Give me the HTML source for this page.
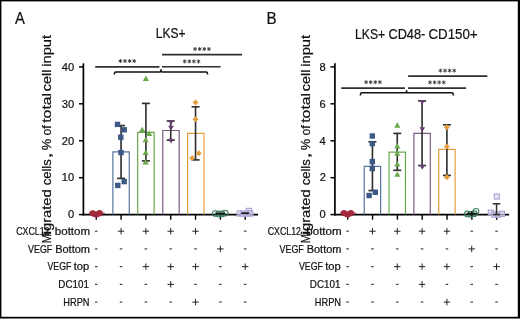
<!DOCTYPE html><html><head><meta charset="utf-8"><style>html,body{margin:0;padding:0;background:#fff;overflow:hidden}svg{display:block;will-change:transform}text{stroke:#111;stroke-width:0.22px}</style></head><body>
<svg width="520" height="319" viewBox="0 0 520 319" font-family='"Liberation Sans", sans-serif' fill="#111">
<rect x="0" y="0" width="520" height="319" fill="#000"/>
<rect x="1.4" y="1.4" width="516.4" height="315.4" fill="#fff"/>
<rect x="0" y="318" width="520" height="1" fill="#777"/>
<text x="15.07" y="24.00" font-size="17.2" textLength="9.87" lengthAdjust="spacingAndGlyphs" >A</text>
<text x="155.71" y="37.50" font-size="14.6" textLength="29.79" lengthAdjust="spacingAndGlyphs" >LKS+</text>
<text transform="translate(51.40,243.31) rotate(-90)" font-size="13.5" textLength="9.23" lengthAdjust="spacingAndGlyphs" >M</text>
<text transform="translate(51.40,235.33) rotate(-90)" font-size="13.5" textLength="4.80" lengthAdjust="spacingAndGlyphs" >i</text>
<text transform="translate(51.40,231.02) rotate(-90)" font-size="13.5" textLength="41.65" lengthAdjust="spacingAndGlyphs" >grated</text>
<text transform="translate(51.40,185.35) rotate(-90)" font-size="13.5" textLength="26.12" lengthAdjust="spacingAndGlyphs" >cells</text>
<text transform="translate(51.40,158.80) rotate(-90)" font-size="13.5" textLength="6.80" lengthAdjust="spacingAndGlyphs" >,</text>
<text transform="translate(51.40,150.27) rotate(-90)" font-size="13.5" textLength="11.52" lengthAdjust="spacingAndGlyphs" >%</text>
<text transform="translate(51.40,135.51) rotate(-90)" font-size="13.5" textLength="10.19" lengthAdjust="spacingAndGlyphs" >of</text>
<text transform="translate(51.40,122.85) rotate(-90)" font-size="13.5" textLength="30.00" lengthAdjust="spacingAndGlyphs" >total</text>
<text transform="translate(51.40,91.31) rotate(-90)" font-size="13.5" textLength="21.67" lengthAdjust="spacingAndGlyphs" >cell</text>
<text transform="translate(51.40,66.77) rotate(-90)" font-size="13.5" textLength="31.90" lengthAdjust="spacingAndGlyphs" >input</text>
<line x1="83.40" y1="63.30" x2="83.40" y2="215.40" stroke="#000" stroke-width="1.7"/>
<line x1="79.00" y1="66.90" x2="83.40" y2="66.90" stroke="#000" stroke-width="1.5"/>
<text x="61.80" y="70.65" font-size="11.7" textLength="12.43" lengthAdjust="spacingAndGlyphs" >40</text>
<line x1="79.00" y1="103.80" x2="83.40" y2="103.80" stroke="#000" stroke-width="1.5"/>
<text x="61.80" y="107.55" font-size="11.7" textLength="12.43" lengthAdjust="spacingAndGlyphs" >30</text>
<line x1="79.00" y1="140.80" x2="83.40" y2="140.80" stroke="#000" stroke-width="1.5"/>
<text x="61.80" y="144.55" font-size="11.7" textLength="12.43" lengthAdjust="spacingAndGlyphs" >20</text>
<line x1="79.00" y1="177.70" x2="83.40" y2="177.70" stroke="#000" stroke-width="1.5"/>
<text x="61.80" y="181.45" font-size="11.7" textLength="12.43" lengthAdjust="spacingAndGlyphs" >10</text>
<line x1="79.00" y1="214.60" x2="83.40" y2="214.60" stroke="#000" stroke-width="1.5"/>
<text x="68.01" y="218.35" font-size="11.7" textLength="6.21" lengthAdjust="spacingAndGlyphs" >0</text>
<line x1="82.60" y1="214.60" x2="258.00" y2="214.60" stroke="#000" stroke-width="1.7"/>
<line x1="96.25" y1="214.60" x2="96.25" y2="219.70" stroke="#000" stroke-width="1.4"/>
<line x1="121.08" y1="214.60" x2="121.08" y2="219.70" stroke="#000" stroke-width="1.4"/>
<line x1="145.90" y1="214.60" x2="145.90" y2="219.70" stroke="#000" stroke-width="1.4"/>
<line x1="170.72" y1="214.60" x2="170.72" y2="219.70" stroke="#000" stroke-width="1.4"/>
<line x1="195.55" y1="214.60" x2="195.55" y2="219.70" stroke="#000" stroke-width="1.4"/>
<line x1="220.38" y1="214.60" x2="220.38" y2="219.70" stroke="#000" stroke-width="1.4"/>
<line x1="245.20" y1="214.60" x2="245.20" y2="219.70" stroke="#000" stroke-width="1.4"/>
<line x1="88.75" y1="213.00" x2="104.75" y2="213.00" stroke="#a2293c" stroke-width="1.0"/>
<circle cx="92.7" cy="213.3" r="3.15" fill="#a2293c"/>
<circle cx="95.6" cy="214.4" r="2.9" fill="#a2293c"/>
<circle cx="97.0" cy="214.4" r="2.9" fill="#a2293c"/>
<circle cx="99.6" cy="213.2" r="3.15" fill="#a2293c"/>
<path d="M112.88,214.60V151.80H129.28V214.60" fill="none" stroke="#56739f" stroke-width="1.2"/>
<line x1="121.08" y1="125.60" x2="121.08" y2="178.40" stroke="#303030" stroke-width="1.65"/>
<line x1="117.08" y1="125.60" x2="125.08" y2="125.60" stroke="#303030" stroke-width="1.65"/>
<line x1="117.08" y1="178.40" x2="125.08" y2="178.40" stroke="#303030" stroke-width="1.65"/>
<rect x="114.80" y="121.70" width="5.4" height="5.4" fill="#3c5887"/>
<rect x="121.50" y="127.10" width="5.4" height="5.4" fill="#3c5887"/>
<rect x="118.10" y="134.50" width="5.4" height="5.4" fill="#3c5887"/>
<rect x="118.30" y="149.90" width="5.4" height="5.4" fill="#3c5887"/>
<rect x="121.50" y="178.90" width="5.4" height="5.4" fill="#3c5887"/>
<rect x="115.10" y="182.70" width="5.4" height="5.4" fill="#3c5887"/>
<path d="M137.70,214.60V132.30H154.10V214.60" fill="none" stroke="#6aa94a" stroke-width="1.2"/>
<line x1="145.90" y1="103.40" x2="145.90" y2="160.90" stroke="#303030" stroke-width="1.65"/>
<line x1="141.90" y1="103.40" x2="149.90" y2="103.40" stroke="#303030" stroke-width="1.65"/>
<line x1="141.90" y1="160.90" x2="149.90" y2="160.90" stroke="#303030" stroke-width="1.65"/>
<path d="M139.10,132.10L142.20,126.70L145.30,132.10Z" fill="#6aa94a"/>
<path d="M146.10,135.90L149.20,130.50L152.30,135.90Z" fill="#6aa94a"/>
<path d="M142.80,81.00L145.90,75.60L149.00,81.00Z" fill="#6aa94a"/>
<path d="M142.50,142.30L145.60,136.90L148.70,142.30Z" fill="#6aa94a"/>
<path d="M142.50,155.10L145.60,149.70L148.70,155.10Z" fill="#6aa94a"/>
<path d="M142.50,164.50L145.60,159.10L148.70,164.50Z" fill="#6aa94a"/>
<path d="M162.78,214.60V130.50H179.17V214.60" fill="none" stroke="#7d5c8a" stroke-width="1.2"/>
<line x1="170.72" y1="121.00" x2="170.72" y2="140.20" stroke="#303030" stroke-width="1.65"/>
<line x1="166.72" y1="121.00" x2="174.72" y2="121.00" stroke="#303030" stroke-width="1.65"/>
<line x1="166.72" y1="140.20" x2="174.72" y2="140.20" stroke="#303030" stroke-width="1.65"/>
<path d="M168.20,120.15L171.00,124.85L173.80,120.15Z" fill="#6a3c77"/>
<path d="M168.20,125.85L171.00,130.55L173.80,125.85Z" fill="#6a3c77"/>
<path d="M168.20,138.85L171.00,143.55L173.80,138.85Z" fill="#6a3c77"/>
<path d="M187.60,214.60V133.40H204.00V214.60" fill="none" stroke="#e49e3e" stroke-width="1.2"/>
<line x1="195.55" y1="106.80" x2="195.55" y2="159.90" stroke="#303030" stroke-width="1.65"/>
<line x1="191.55" y1="106.80" x2="199.55" y2="106.80" stroke="#303030" stroke-width="1.65"/>
<line x1="191.55" y1="159.90" x2="199.55" y2="159.90" stroke="#303030" stroke-width="1.65"/>
<path d="M195.50,99.40L198.50,102.40L195.50,105.40L192.50,102.40Z" fill="#e49e3e"/>
<path d="M195.50,116.30L198.50,119.30L195.50,122.30L192.50,119.30Z" fill="#e49e3e"/>
<path d="M198.80,150.20L201.80,153.20L198.80,156.20L195.80,153.20Z" fill="#e49e3e"/>
<path d="M192.20,154.90L195.20,157.90L192.20,160.90L189.20,157.90Z" fill="#e49e3e"/>
<circle cx="215.2" cy="213.5" r="2.8" fill="none" stroke="#3a7d5c" stroke-width="1.1"/>
<circle cx="218.5" cy="213.9" r="2.8" fill="none" stroke="#3a7d5c" stroke-width="1.1"/>
<circle cx="222" cy="213.9" r="2.8" fill="none" stroke="#3a7d5c" stroke-width="1.1"/>
<circle cx="225.3" cy="213.1" r="2.8" fill="none" stroke="#3a7d5c" stroke-width="1.1"/>
<line x1="215.78" y1="213.60" x2="224.78" y2="213.60" stroke="#111" stroke-width="1.6"/>
<rect x="246.30" y="208.30" width="5.2" height="5.2" fill="#d6d0ee" fill-opacity="0.7" stroke="#a99dd3" stroke-width="1.0"/>
<rect x="237.00" y="210.90" width="5.2" height="5.2" fill="#d6d0ee" fill-opacity="0.7" stroke="#a99dd3" stroke-width="1.0"/>
<rect x="240.40" y="211.00" width="5.2" height="5.2" fill="#d6d0ee" fill-opacity="0.7" stroke="#a99dd3" stroke-width="1.0"/>
<rect x="243.90" y="211.00" width="5.2" height="5.2" fill="#d6d0ee" fill-opacity="0.7" stroke="#a99dd3" stroke-width="1.0"/>
<rect x="247.80" y="210.90" width="5.2" height="5.2" fill="#d6d0ee" fill-opacity="0.7" stroke="#a99dd3" stroke-width="1.0"/>
<line x1="241.20" y1="213.20" x2="249.20" y2="213.20" stroke="#111" stroke-width="1.6"/>
<line x1="162.00" y1="54.60" x2="242.00" y2="54.60" stroke="#303030" stroke-width="1.6"/>
<line x1="195.10" y1="47.00" x2="195.10" y2="51.00" stroke="#333" stroke-width="0.9"/>
<line x1="193.37" y1="48.00" x2="196.83" y2="50.00" stroke="#333" stroke-width="0.9"/>
<line x1="196.83" y1="48.00" x2="193.37" y2="50.00" stroke="#333" stroke-width="0.9"/>
<line x1="199.70" y1="47.00" x2="199.70" y2="51.00" stroke="#333" stroke-width="0.9"/>
<line x1="197.97" y1="48.00" x2="201.43" y2="50.00" stroke="#333" stroke-width="0.9"/>
<line x1="201.43" y1="48.00" x2="197.97" y2="50.00" stroke="#333" stroke-width="0.9"/>
<line x1="204.30" y1="47.00" x2="204.30" y2="51.00" stroke="#333" stroke-width="0.9"/>
<line x1="202.57" y1="48.00" x2="206.03" y2="50.00" stroke="#333" stroke-width="0.9"/>
<line x1="206.03" y1="48.00" x2="202.57" y2="50.00" stroke="#333" stroke-width="0.9"/>
<line x1="208.90" y1="47.00" x2="208.90" y2="51.00" stroke="#333" stroke-width="0.9"/>
<line x1="207.17" y1="48.00" x2="210.63" y2="50.00" stroke="#333" stroke-width="0.9"/>
<line x1="210.63" y1="48.00" x2="207.17" y2="50.00" stroke="#333" stroke-width="0.9"/>
<line x1="95.20" y1="66.90" x2="159.40" y2="66.90" stroke="#303030" stroke-width="1.6"/>
<line x1="120.40" y1="59.00" x2="120.40" y2="63.00" stroke="#333" stroke-width="0.9"/>
<line x1="118.67" y1="60.00" x2="122.13" y2="62.00" stroke="#333" stroke-width="0.9"/>
<line x1="122.13" y1="60.00" x2="118.67" y2="62.00" stroke="#333" stroke-width="0.9"/>
<line x1="125.00" y1="59.00" x2="125.00" y2="63.00" stroke="#333" stroke-width="0.9"/>
<line x1="123.27" y1="60.00" x2="126.73" y2="62.00" stroke="#333" stroke-width="0.9"/>
<line x1="126.73" y1="60.00" x2="123.27" y2="62.00" stroke="#333" stroke-width="0.9"/>
<line x1="129.60" y1="59.00" x2="129.60" y2="63.00" stroke="#333" stroke-width="0.9"/>
<line x1="127.87" y1="60.00" x2="131.33" y2="62.00" stroke="#333" stroke-width="0.9"/>
<line x1="131.33" y1="60.00" x2="127.87" y2="62.00" stroke="#333" stroke-width="0.9"/>
<line x1="134.20" y1="59.00" x2="134.20" y2="63.00" stroke="#333" stroke-width="0.9"/>
<line x1="132.47" y1="60.00" x2="135.93" y2="62.00" stroke="#333" stroke-width="0.9"/>
<line x1="135.93" y1="60.00" x2="132.47" y2="62.00" stroke="#333" stroke-width="0.9"/>
<line x1="162.00" y1="66.80" x2="220.60" y2="66.80" stroke="#303030" stroke-width="1.6"/>
<line x1="184.70" y1="59.40" x2="184.70" y2="63.40" stroke="#333" stroke-width="0.9"/>
<line x1="182.97" y1="60.40" x2="186.43" y2="62.40" stroke="#333" stroke-width="0.9"/>
<line x1="186.43" y1="60.40" x2="182.97" y2="62.40" stroke="#333" stroke-width="0.9"/>
<line x1="189.30" y1="59.40" x2="189.30" y2="63.40" stroke="#333" stroke-width="0.9"/>
<line x1="187.57" y1="60.40" x2="191.03" y2="62.40" stroke="#333" stroke-width="0.9"/>
<line x1="191.03" y1="60.40" x2="187.57" y2="62.40" stroke="#333" stroke-width="0.9"/>
<line x1="193.90" y1="59.40" x2="193.90" y2="63.40" stroke="#333" stroke-width="0.9"/>
<line x1="192.17" y1="60.40" x2="195.63" y2="62.40" stroke="#333" stroke-width="0.9"/>
<line x1="195.63" y1="60.40" x2="192.17" y2="62.40" stroke="#333" stroke-width="0.9"/>
<line x1="198.50" y1="59.40" x2="198.50" y2="63.40" stroke="#333" stroke-width="0.9"/>
<line x1="196.77" y1="60.40" x2="200.23" y2="62.40" stroke="#333" stroke-width="0.9"/>
<line x1="200.23" y1="60.40" x2="196.77" y2="62.40" stroke="#333" stroke-width="0.9"/>
<path d="M114.30,74.60Q114.30,71.90 115.80,71.90H159.80Q161.00,71.90 161.00,69.20Q161.00,71.90 162.20,71.90H206.10Q207.60,71.90 207.60,74.60" fill="none" stroke="#111" stroke-width="1.5"/>
<text x="266.55" y="23.80" font-size="16.8" textLength="10.16" lengthAdjust="spacingAndGlyphs" >B</text>
<text x="355.11" y="38.50" font-size="14.6" textLength="30.00" lengthAdjust="spacingAndGlyphs" >LKS+</text>
<text x="388.46" y="38.50" font-size="14.6" textLength="36.82" lengthAdjust="spacingAndGlyphs" >CD48-</text>
<text x="428.44" y="38.50" font-size="14.6" textLength="49.14" lengthAdjust="spacingAndGlyphs" >CD150+</text>
<text transform="translate(309.90,243.31) rotate(-90)" font-size="13.5" textLength="9.23" lengthAdjust="spacingAndGlyphs" >M</text>
<text transform="translate(309.90,235.33) rotate(-90)" font-size="13.5" textLength="4.80" lengthAdjust="spacingAndGlyphs" >i</text>
<text transform="translate(309.90,231.02) rotate(-90)" font-size="13.5" textLength="41.65" lengthAdjust="spacingAndGlyphs" >grated</text>
<text transform="translate(309.90,185.35) rotate(-90)" font-size="13.5" textLength="26.12" lengthAdjust="spacingAndGlyphs" >cells</text>
<text transform="translate(309.90,158.80) rotate(-90)" font-size="13.5" textLength="6.80" lengthAdjust="spacingAndGlyphs" >,</text>
<text transform="translate(309.90,150.27) rotate(-90)" font-size="13.5" textLength="11.52" lengthAdjust="spacingAndGlyphs" >%</text>
<text transform="translate(309.90,135.51) rotate(-90)" font-size="13.5" textLength="10.19" lengthAdjust="spacingAndGlyphs" >of</text>
<text transform="translate(309.90,122.85) rotate(-90)" font-size="13.5" textLength="30.00" lengthAdjust="spacingAndGlyphs" >total</text>
<text transform="translate(309.90,91.31) rotate(-90)" font-size="13.5" textLength="21.67" lengthAdjust="spacingAndGlyphs" >cell</text>
<text transform="translate(309.90,66.77) rotate(-90)" font-size="13.5" textLength="31.90" lengthAdjust="spacingAndGlyphs" >input</text>
<line x1="334.90" y1="63.30" x2="334.90" y2="215.40" stroke="#000" stroke-width="1.7"/>
<line x1="330.50" y1="66.90" x2="334.90" y2="66.90" stroke="#000" stroke-width="1.5"/>
<text x="319.58" y="70.65" font-size="11.7" textLength="6.21" lengthAdjust="spacingAndGlyphs" >8</text>
<line x1="330.50" y1="103.80" x2="334.90" y2="103.80" stroke="#000" stroke-width="1.5"/>
<text x="319.58" y="107.55" font-size="11.7" textLength="6.21" lengthAdjust="spacingAndGlyphs" >6</text>
<line x1="330.50" y1="140.80" x2="334.90" y2="140.80" stroke="#000" stroke-width="1.5"/>
<text x="319.42" y="144.55" font-size="11.7" textLength="6.21" lengthAdjust="spacingAndGlyphs" >4</text>
<line x1="330.50" y1="177.70" x2="334.90" y2="177.70" stroke="#000" stroke-width="1.5"/>
<text x="319.65" y="181.45" font-size="11.7" textLength="6.21" lengthAdjust="spacingAndGlyphs" >2</text>
<line x1="330.50" y1="214.60" x2="334.90" y2="214.60" stroke="#000" stroke-width="1.5"/>
<text x="319.51" y="218.35" font-size="11.7" textLength="6.21" lengthAdjust="spacingAndGlyphs" >0</text>
<line x1="334.10" y1="214.60" x2="509.20" y2="214.60" stroke="#000" stroke-width="1.7"/>
<line x1="347.75" y1="214.60" x2="347.75" y2="219.70" stroke="#000" stroke-width="1.4"/>
<line x1="372.57" y1="214.60" x2="372.57" y2="219.70" stroke="#000" stroke-width="1.4"/>
<line x1="397.40" y1="214.60" x2="397.40" y2="219.70" stroke="#000" stroke-width="1.4"/>
<line x1="422.23" y1="214.60" x2="422.23" y2="219.70" stroke="#000" stroke-width="1.4"/>
<line x1="447.05" y1="214.60" x2="447.05" y2="219.70" stroke="#000" stroke-width="1.4"/>
<line x1="471.88" y1="214.60" x2="471.88" y2="219.70" stroke="#000" stroke-width="1.4"/>
<line x1="496.70" y1="214.60" x2="496.70" y2="219.70" stroke="#000" stroke-width="1.4"/>
<line x1="340.10" y1="213.00" x2="356.10" y2="213.00" stroke="#a2293c" stroke-width="1.0"/>
<circle cx="344.0" cy="213.1" r="3.2" fill="#a2293c"/>
<circle cx="347.0" cy="214.4" r="2.9" fill="#a2293c"/>
<circle cx="348.2" cy="214.4" r="2.9" fill="#a2293c"/>
<circle cx="350.8" cy="213.1" r="3.2" fill="#a2293c"/>
<path d="M364.23,214.60V166.30H380.62V214.60" fill="none" stroke="#56739f" stroke-width="1.2"/>
<line x1="372.43" y1="141.80" x2="372.43" y2="190.60" stroke="#303030" stroke-width="1.65"/>
<line x1="368.43" y1="141.80" x2="376.43" y2="141.80" stroke="#303030" stroke-width="1.65"/>
<line x1="368.43" y1="190.60" x2="376.43" y2="190.60" stroke="#303030" stroke-width="1.65"/>
<rect x="369.60" y="133.30" width="5.4" height="5.4" fill="#3c5887"/>
<rect x="369.60" y="140.90" width="5.4" height="5.4" fill="#3c5887"/>
<rect x="369.60" y="158.90" width="5.4" height="5.4" fill="#3c5887"/>
<rect x="369.60" y="165.90" width="5.4" height="5.4" fill="#3c5887"/>
<rect x="372.60" y="189.60" width="5.4" height="5.4" fill="#3c5887"/>
<rect x="366.40" y="192.80" width="5.4" height="5.4" fill="#3c5887"/>
<path d="M389.05,214.60V152.20H405.45V214.60" fill="none" stroke="#6aa94a" stroke-width="1.2"/>
<line x1="397.25" y1="133.40" x2="397.25" y2="170.30" stroke="#303030" stroke-width="1.65"/>
<line x1="393.25" y1="133.40" x2="401.25" y2="133.40" stroke="#303030" stroke-width="1.65"/>
<line x1="393.25" y1="170.30" x2="401.25" y2="170.30" stroke="#303030" stroke-width="1.65"/>
<path d="M394.20,127.70L397.30,122.30L400.40,127.70Z" fill="#6aa94a"/>
<path d="M394.20,148.50L397.30,143.10L400.40,148.50Z" fill="#6aa94a"/>
<path d="M394.20,155.70L397.30,150.30L400.40,155.70Z" fill="#6aa94a"/>
<path d="M394.20,166.40L397.30,161.00L400.40,166.40Z" fill="#6aa94a"/>
<path d="M394.20,176.80L397.30,171.40L400.40,176.80Z" fill="#6aa94a"/>
<path d="M413.88,214.60V133.30H430.28V214.60" fill="none" stroke="#7d5c8a" stroke-width="1.2"/>
<line x1="422.08" y1="100.90" x2="422.08" y2="165.50" stroke="#303030" stroke-width="1.65"/>
<line x1="418.08" y1="100.90" x2="426.08" y2="100.90" stroke="#303030" stroke-width="1.65"/>
<line x1="418.08" y1="165.50" x2="426.08" y2="165.50" stroke="#303030" stroke-width="1.65"/>
<path d="M419.50,100.05L422.30,104.75L425.10,100.05Z" fill="#6a3c77"/>
<path d="M419.50,127.35L422.30,132.05L425.10,127.35Z" fill="#6a3c77"/>
<path d="M419.50,165.05L422.30,169.75L425.10,165.05Z" fill="#6a3c77"/>
<path d="M438.70,214.60V149.40H455.10V214.60" fill="none" stroke="#e49e3e" stroke-width="1.2"/>
<line x1="446.90" y1="124.80" x2="446.90" y2="175.40" stroke="#303030" stroke-width="1.65"/>
<line x1="442.90" y1="124.80" x2="450.90" y2="124.80" stroke="#303030" stroke-width="1.65"/>
<line x1="442.90" y1="175.40" x2="450.90" y2="175.40" stroke="#303030" stroke-width="1.65"/>
<path d="M446.80,124.20L449.80,127.20L446.80,130.20L443.80,127.20Z" fill="#e49e3e"/>
<path d="M446.80,143.50L449.80,146.50L446.80,149.50L443.80,146.50Z" fill="#e49e3e"/>
<path d="M446.80,174.20L449.80,177.20L446.80,180.20L443.80,177.20Z" fill="#e49e3e"/>
<circle cx="467.3" cy="213.9" r="2.8" fill="none" stroke="#3a7d5c" stroke-width="1.1"/>
<circle cx="470.8" cy="214.3" r="2.8" fill="none" stroke="#3a7d5c" stroke-width="1.1"/>
<circle cx="474.3" cy="213.7" r="2.8" fill="none" stroke="#3a7d5c" stroke-width="1.1"/>
<circle cx="476.0" cy="211.3" r="2.8" fill="none" stroke="#3a7d5c" stroke-width="1.1"/>
<line x1="466.73" y1="213.60" x2="476.73" y2="213.60" stroke="#111" stroke-width="1.6"/>
<line x1="471.73" y1="211.30" x2="471.73" y2="216.00" stroke="#111" stroke-width="1.2"/>
<rect x="494.20" y="193.90" width="5.2" height="5.2" fill="#d6d0ee" fill-opacity="0.7" stroke="#a99dd3" stroke-width="1.0"/>
<rect x="488.20" y="210.00" width="5.2" height="5.2" fill="#d6d0ee" fill-opacity="0.7" stroke="#a99dd3" stroke-width="1.0"/>
<rect x="491.70" y="212.00" width="5.2" height="5.2" fill="#d6d0ee" fill-opacity="0.7" stroke="#a99dd3" stroke-width="1.0"/>
<rect x="495.70" y="212.00" width="5.2" height="5.2" fill="#d6d0ee" fill-opacity="0.7" stroke="#a99dd3" stroke-width="1.0"/>
<rect x="499.30" y="211.20" width="5.2" height="5.2" fill="#d6d0ee" fill-opacity="0.7" stroke="#a99dd3" stroke-width="1.0"/>
<line x1="496.55" y1="203.80" x2="496.55" y2="214.60" stroke="#303030" stroke-width="1.5"/>
<line x1="492.75" y1="203.80" x2="500.35" y2="203.80" stroke="#303030" stroke-width="1.5"/>
<line x1="492.75" y1="214.60" x2="500.35" y2="214.60" stroke="#303030" stroke-width="1.5"/>
<line x1="408.10" y1="76.10" x2="487.40" y2="76.10" stroke="#303030" stroke-width="1.6"/>
<line x1="440.40" y1="68.60" x2="440.40" y2="72.60" stroke="#333" stroke-width="0.9"/>
<line x1="438.67" y1="69.60" x2="442.13" y2="71.60" stroke="#333" stroke-width="0.9"/>
<line x1="442.13" y1="69.60" x2="438.67" y2="71.60" stroke="#333" stroke-width="0.9"/>
<line x1="445.00" y1="68.60" x2="445.00" y2="72.60" stroke="#333" stroke-width="0.9"/>
<line x1="443.27" y1="69.60" x2="446.73" y2="71.60" stroke="#333" stroke-width="0.9"/>
<line x1="446.73" y1="69.60" x2="443.27" y2="71.60" stroke="#333" stroke-width="0.9"/>
<line x1="449.60" y1="68.60" x2="449.60" y2="72.60" stroke="#333" stroke-width="0.9"/>
<line x1="447.87" y1="69.60" x2="451.33" y2="71.60" stroke="#333" stroke-width="0.9"/>
<line x1="451.33" y1="69.60" x2="447.87" y2="71.60" stroke="#333" stroke-width="0.9"/>
<line x1="454.20" y1="68.60" x2="454.20" y2="72.60" stroke="#333" stroke-width="0.9"/>
<line x1="452.47" y1="69.60" x2="455.93" y2="71.60" stroke="#333" stroke-width="0.9"/>
<line x1="455.93" y1="69.60" x2="452.47" y2="71.60" stroke="#333" stroke-width="0.9"/>
<line x1="341.20" y1="88.10" x2="404.90" y2="88.10" stroke="#303030" stroke-width="1.6"/>
<line x1="366.10" y1="80.20" x2="366.10" y2="84.20" stroke="#333" stroke-width="0.9"/>
<line x1="364.37" y1="81.20" x2="367.83" y2="83.20" stroke="#333" stroke-width="0.9"/>
<line x1="367.83" y1="81.20" x2="364.37" y2="83.20" stroke="#333" stroke-width="0.9"/>
<line x1="370.70" y1="80.20" x2="370.70" y2="84.20" stroke="#333" stroke-width="0.9"/>
<line x1="368.97" y1="81.20" x2="372.43" y2="83.20" stroke="#333" stroke-width="0.9"/>
<line x1="372.43" y1="81.20" x2="368.97" y2="83.20" stroke="#333" stroke-width="0.9"/>
<line x1="375.30" y1="80.20" x2="375.30" y2="84.20" stroke="#333" stroke-width="0.9"/>
<line x1="373.57" y1="81.20" x2="377.03" y2="83.20" stroke="#333" stroke-width="0.9"/>
<line x1="377.03" y1="81.20" x2="373.57" y2="83.20" stroke="#333" stroke-width="0.9"/>
<line x1="379.90" y1="80.20" x2="379.90" y2="84.20" stroke="#333" stroke-width="0.9"/>
<line x1="378.17" y1="81.20" x2="381.63" y2="83.20" stroke="#333" stroke-width="0.9"/>
<line x1="381.63" y1="81.20" x2="378.17" y2="83.20" stroke="#333" stroke-width="0.9"/>
<line x1="408.10" y1="88.10" x2="466.10" y2="88.10" stroke="#303030" stroke-width="1.6"/>
<line x1="430.00" y1="80.40" x2="430.00" y2="84.40" stroke="#333" stroke-width="0.9"/>
<line x1="428.27" y1="81.40" x2="431.73" y2="83.40" stroke="#333" stroke-width="0.9"/>
<line x1="431.73" y1="81.40" x2="428.27" y2="83.40" stroke="#333" stroke-width="0.9"/>
<line x1="434.60" y1="80.40" x2="434.60" y2="84.40" stroke="#333" stroke-width="0.9"/>
<line x1="432.87" y1="81.40" x2="436.33" y2="83.40" stroke="#333" stroke-width="0.9"/>
<line x1="436.33" y1="81.40" x2="432.87" y2="83.40" stroke="#333" stroke-width="0.9"/>
<line x1="439.20" y1="80.40" x2="439.20" y2="84.40" stroke="#333" stroke-width="0.9"/>
<line x1="437.47" y1="81.40" x2="440.93" y2="83.40" stroke="#333" stroke-width="0.9"/>
<line x1="440.93" y1="81.40" x2="437.47" y2="83.40" stroke="#333" stroke-width="0.9"/>
<line x1="443.80" y1="80.40" x2="443.80" y2="84.40" stroke="#333" stroke-width="0.9"/>
<line x1="442.07" y1="81.40" x2="445.53" y2="83.40" stroke="#333" stroke-width="0.9"/>
<line x1="445.53" y1="81.40" x2="442.07" y2="83.40" stroke="#333" stroke-width="0.9"/>
<path d="M360.40,95.60Q360.40,92.80 361.90,92.80H405.40Q406.60,92.80 406.60,90.20Q406.60,92.80 407.80,92.80H451.90Q453.40,92.80 453.40,95.60" fill="none" stroke="#111" stroke-width="1.5"/>
<text x="16.16" y="235.00" font-size="10.4" textLength="33.38" lengthAdjust="spacingAndGlyphs" fill="#111">CXCL12</text>
<text x="54.76" y="235.00" font-size="10.4" textLength="35.40" lengthAdjust="spacingAndGlyphs" fill="#111">bottom</text>
<line x1="94.95" y1="231.20" x2="97.55" y2="231.20" stroke="#333" stroke-width="1.1"/>
<line x1="117.88" y1="231.20" x2="124.28" y2="231.20" stroke="#222" stroke-width="1.0"/>
<line x1="121.08" y1="228.00" x2="121.08" y2="234.40" stroke="#222" stroke-width="1.0"/>
<line x1="142.70" y1="231.20" x2="149.10" y2="231.20" stroke="#222" stroke-width="1.0"/>
<line x1="145.90" y1="228.00" x2="145.90" y2="234.40" stroke="#222" stroke-width="1.0"/>
<line x1="167.53" y1="231.20" x2="173.92" y2="231.20" stroke="#222" stroke-width="1.0"/>
<line x1="170.72" y1="228.00" x2="170.72" y2="234.40" stroke="#222" stroke-width="1.0"/>
<line x1="192.35" y1="231.20" x2="198.75" y2="231.20" stroke="#222" stroke-width="1.0"/>
<line x1="195.55" y1="228.00" x2="195.55" y2="234.40" stroke="#222" stroke-width="1.0"/>
<line x1="219.07" y1="231.20" x2="221.68" y2="231.20" stroke="#333" stroke-width="1.1"/>
<line x1="243.90" y1="231.20" x2="246.50" y2="231.20" stroke="#333" stroke-width="1.1"/>
<text x="28.06" y="252.72" font-size="10.4" textLength="24.20" lengthAdjust="spacingAndGlyphs" fill="#111">VEGF</text>
<text x="55.20" y="252.72" font-size="10.4" textLength="34.70" lengthAdjust="spacingAndGlyphs" fill="#111">Bottom</text>
<line x1="94.95" y1="248.92" x2="97.55" y2="248.92" stroke="#333" stroke-width="1.1"/>
<line x1="119.78" y1="248.92" x2="122.38" y2="248.92" stroke="#333" stroke-width="1.1"/>
<line x1="144.60" y1="248.92" x2="147.20" y2="248.92" stroke="#333" stroke-width="1.1"/>
<line x1="169.42" y1="248.92" x2="172.03" y2="248.92" stroke="#333" stroke-width="1.1"/>
<line x1="194.25" y1="248.92" x2="196.85" y2="248.92" stroke="#333" stroke-width="1.1"/>
<line x1="217.18" y1="248.92" x2="223.57" y2="248.92" stroke="#222" stroke-width="1.0"/>
<line x1="220.38" y1="245.72" x2="220.38" y2="252.12" stroke="#222" stroke-width="1.0"/>
<line x1="243.90" y1="248.92" x2="246.50" y2="248.92" stroke="#333" stroke-width="1.1"/>
<text x="47.46" y="270.44" font-size="10.4" textLength="23.99" lengthAdjust="spacingAndGlyphs" fill="#111">VEGF</text>
<text x="73.72" y="270.44" font-size="10.4" textLength="15.55" lengthAdjust="spacingAndGlyphs" fill="#111">top</text>
<line x1="94.95" y1="266.64" x2="97.55" y2="266.64" stroke="#333" stroke-width="1.1"/>
<line x1="119.78" y1="266.64" x2="122.38" y2="266.64" stroke="#333" stroke-width="1.1"/>
<line x1="142.70" y1="266.64" x2="149.10" y2="266.64" stroke="#222" stroke-width="1.0"/>
<line x1="145.90" y1="263.44" x2="145.90" y2="269.84" stroke="#222" stroke-width="1.0"/>
<line x1="167.53" y1="266.64" x2="173.92" y2="266.64" stroke="#222" stroke-width="1.0"/>
<line x1="170.72" y1="263.44" x2="170.72" y2="269.84" stroke="#222" stroke-width="1.0"/>
<line x1="192.35" y1="266.64" x2="198.75" y2="266.64" stroke="#222" stroke-width="1.0"/>
<line x1="195.55" y1="263.44" x2="195.55" y2="269.84" stroke="#222" stroke-width="1.0"/>
<line x1="219.07" y1="266.64" x2="221.68" y2="266.64" stroke="#333" stroke-width="1.1"/>
<line x1="242.00" y1="266.64" x2="248.40" y2="266.64" stroke="#222" stroke-width="1.0"/>
<line x1="245.20" y1="263.44" x2="245.20" y2="269.84" stroke="#222" stroke-width="1.0"/>
<text x="58.29" y="288.16" font-size="10.4" textLength="30.59" lengthAdjust="spacingAndGlyphs" fill="#111">DC101</text>
<line x1="94.95" y1="284.36" x2="97.55" y2="284.36" stroke="#333" stroke-width="1.1"/>
<line x1="119.78" y1="284.36" x2="122.38" y2="284.36" stroke="#333" stroke-width="1.1"/>
<line x1="144.60" y1="284.36" x2="147.20" y2="284.36" stroke="#333" stroke-width="1.1"/>
<line x1="167.53" y1="284.36" x2="173.92" y2="284.36" stroke="#222" stroke-width="1.0"/>
<line x1="170.72" y1="281.16" x2="170.72" y2="287.56" stroke="#222" stroke-width="1.0"/>
<line x1="194.25" y1="284.36" x2="196.85" y2="284.36" stroke="#333" stroke-width="1.1"/>
<line x1="219.07" y1="284.36" x2="221.68" y2="284.36" stroke="#333" stroke-width="1.1"/>
<line x1="243.90" y1="284.36" x2="246.50" y2="284.36" stroke="#333" stroke-width="1.1"/>
<text x="63.34" y="305.88" font-size="10.4" textLength="26.21" lengthAdjust="spacingAndGlyphs" fill="#111">HRPN</text>
<line x1="94.95" y1="302.08" x2="97.55" y2="302.08" stroke="#333" stroke-width="1.1"/>
<line x1="119.78" y1="302.08" x2="122.38" y2="302.08" stroke="#333" stroke-width="1.1"/>
<line x1="144.60" y1="302.08" x2="147.20" y2="302.08" stroke="#333" stroke-width="1.1"/>
<line x1="169.42" y1="302.08" x2="172.03" y2="302.08" stroke="#333" stroke-width="1.1"/>
<line x1="192.35" y1="302.08" x2="198.75" y2="302.08" stroke="#222" stroke-width="1.0"/>
<line x1="195.55" y1="298.88" x2="195.55" y2="305.28" stroke="#222" stroke-width="1.0"/>
<line x1="219.07" y1="302.08" x2="221.68" y2="302.08" stroke="#333" stroke-width="1.1"/>
<line x1="243.90" y1="302.08" x2="246.50" y2="302.08" stroke="#333" stroke-width="1.1"/>
<text x="267.66" y="235.00" font-size="10.4" textLength="33.38" lengthAdjust="spacingAndGlyphs" fill="#111">CXCL12</text>
<text x="306.26" y="235.00" font-size="10.4" textLength="35.40" lengthAdjust="spacingAndGlyphs" fill="#111">bottom</text>
<line x1="346.30" y1="231.20" x2="348.90" y2="231.20" stroke="#333" stroke-width="1.1"/>
<line x1="369.23" y1="231.20" x2="375.62" y2="231.20" stroke="#222" stroke-width="1.0"/>
<line x1="372.43" y1="228.00" x2="372.43" y2="234.40" stroke="#222" stroke-width="1.0"/>
<line x1="394.05" y1="231.20" x2="400.45" y2="231.20" stroke="#222" stroke-width="1.0"/>
<line x1="397.25" y1="228.00" x2="397.25" y2="234.40" stroke="#222" stroke-width="1.0"/>
<line x1="418.88" y1="231.20" x2="425.28" y2="231.20" stroke="#222" stroke-width="1.0"/>
<line x1="422.08" y1="228.00" x2="422.08" y2="234.40" stroke="#222" stroke-width="1.0"/>
<line x1="443.70" y1="231.20" x2="450.10" y2="231.20" stroke="#222" stroke-width="1.0"/>
<line x1="446.90" y1="228.00" x2="446.90" y2="234.40" stroke="#222" stroke-width="1.0"/>
<line x1="470.43" y1="231.20" x2="473.03" y2="231.20" stroke="#333" stroke-width="1.1"/>
<line x1="495.25" y1="231.20" x2="497.85" y2="231.20" stroke="#333" stroke-width="1.1"/>
<text x="279.56" y="252.72" font-size="10.4" textLength="24.20" lengthAdjust="spacingAndGlyphs" fill="#111">VEGF</text>
<text x="306.70" y="252.72" font-size="10.4" textLength="34.70" lengthAdjust="spacingAndGlyphs" fill="#111">Bottom</text>
<line x1="346.30" y1="248.92" x2="348.90" y2="248.92" stroke="#333" stroke-width="1.1"/>
<line x1="371.12" y1="248.92" x2="373.73" y2="248.92" stroke="#333" stroke-width="1.1"/>
<line x1="395.95" y1="248.92" x2="398.55" y2="248.92" stroke="#333" stroke-width="1.1"/>
<line x1="420.78" y1="248.92" x2="423.38" y2="248.92" stroke="#333" stroke-width="1.1"/>
<line x1="445.60" y1="248.92" x2="448.20" y2="248.92" stroke="#333" stroke-width="1.1"/>
<line x1="468.53" y1="248.92" x2="474.93" y2="248.92" stroke="#222" stroke-width="1.0"/>
<line x1="471.73" y1="245.72" x2="471.73" y2="252.12" stroke="#222" stroke-width="1.0"/>
<line x1="495.25" y1="248.92" x2="497.85" y2="248.92" stroke="#333" stroke-width="1.1"/>
<text x="298.96" y="270.44" font-size="10.4" textLength="23.99" lengthAdjust="spacingAndGlyphs" fill="#111">VEGF</text>
<text x="325.22" y="270.44" font-size="10.4" textLength="15.55" lengthAdjust="spacingAndGlyphs" fill="#111">top</text>
<line x1="346.30" y1="266.64" x2="348.90" y2="266.64" stroke="#333" stroke-width="1.1"/>
<line x1="371.12" y1="266.64" x2="373.73" y2="266.64" stroke="#333" stroke-width="1.1"/>
<line x1="394.05" y1="266.64" x2="400.45" y2="266.64" stroke="#222" stroke-width="1.0"/>
<line x1="397.25" y1="263.44" x2="397.25" y2="269.84" stroke="#222" stroke-width="1.0"/>
<line x1="418.88" y1="266.64" x2="425.28" y2="266.64" stroke="#222" stroke-width="1.0"/>
<line x1="422.08" y1="263.44" x2="422.08" y2="269.84" stroke="#222" stroke-width="1.0"/>
<line x1="443.70" y1="266.64" x2="450.10" y2="266.64" stroke="#222" stroke-width="1.0"/>
<line x1="446.90" y1="263.44" x2="446.90" y2="269.84" stroke="#222" stroke-width="1.0"/>
<line x1="470.43" y1="266.64" x2="473.03" y2="266.64" stroke="#333" stroke-width="1.1"/>
<line x1="493.35" y1="266.64" x2="499.75" y2="266.64" stroke="#222" stroke-width="1.0"/>
<line x1="496.55" y1="263.44" x2="496.55" y2="269.84" stroke="#222" stroke-width="1.0"/>
<text x="309.79" y="288.16" font-size="10.4" textLength="30.59" lengthAdjust="spacingAndGlyphs" fill="#111">DC101</text>
<line x1="346.30" y1="284.36" x2="348.90" y2="284.36" stroke="#333" stroke-width="1.1"/>
<line x1="371.12" y1="284.36" x2="373.73" y2="284.36" stroke="#333" stroke-width="1.1"/>
<line x1="395.95" y1="284.36" x2="398.55" y2="284.36" stroke="#333" stroke-width="1.1"/>
<line x1="418.88" y1="284.36" x2="425.28" y2="284.36" stroke="#222" stroke-width="1.0"/>
<line x1="422.08" y1="281.16" x2="422.08" y2="287.56" stroke="#222" stroke-width="1.0"/>
<line x1="445.60" y1="284.36" x2="448.20" y2="284.36" stroke="#333" stroke-width="1.1"/>
<line x1="470.43" y1="284.36" x2="473.03" y2="284.36" stroke="#333" stroke-width="1.1"/>
<line x1="495.25" y1="284.36" x2="497.85" y2="284.36" stroke="#333" stroke-width="1.1"/>
<text x="314.84" y="305.88" font-size="10.4" textLength="26.21" lengthAdjust="spacingAndGlyphs" fill="#111">HRPN</text>
<line x1="346.30" y1="302.08" x2="348.90" y2="302.08" stroke="#333" stroke-width="1.1"/>
<line x1="371.12" y1="302.08" x2="373.73" y2="302.08" stroke="#333" stroke-width="1.1"/>
<line x1="395.95" y1="302.08" x2="398.55" y2="302.08" stroke="#333" stroke-width="1.1"/>
<line x1="420.78" y1="302.08" x2="423.38" y2="302.08" stroke="#333" stroke-width="1.1"/>
<line x1="443.70" y1="302.08" x2="450.10" y2="302.08" stroke="#222" stroke-width="1.0"/>
<line x1="446.90" y1="298.88" x2="446.90" y2="305.28" stroke="#222" stroke-width="1.0"/>
<line x1="470.43" y1="302.08" x2="473.03" y2="302.08" stroke="#333" stroke-width="1.1"/>
<line x1="495.25" y1="302.08" x2="497.85" y2="302.08" stroke="#333" stroke-width="1.1"/>
</svg></body></html>
